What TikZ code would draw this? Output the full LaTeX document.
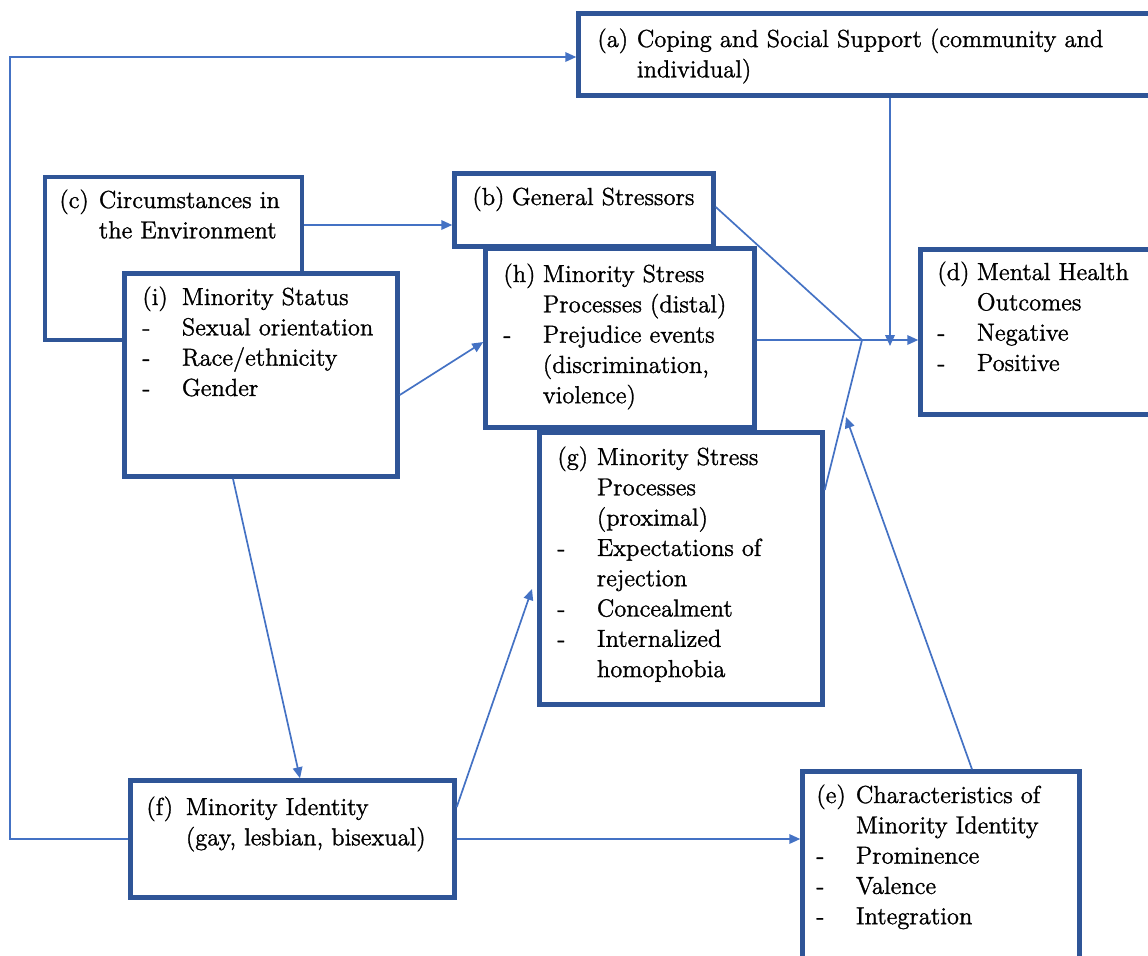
\documentclass[tikz,border=0pt]{standalone}
\usepackage{fontspec}
\setmainfont{Latin Modern Roman}[FakeBold=1.2]
\usetikzlibrary{arrows.meta,fit,calc}
\definecolor{boxblue}{HTML}{2F5597}
\definecolor{linkblue}{HTML}{4472C4}
\newcommand\lb[1]{\makebox[19.75pt][l]{#1}}
\begin{document}
\begin{tikzpicture}[x=0.5pt,y=-0.5pt,
 box/.style={draw=boxblue, line width=2.25pt, fill=white, inner sep=0pt},
 txt/.style={inner sep=0pt, anchor=base west, font=\fontsize{12.3pt}{15.15pt}\selectfont},
 conn/.style={draw=linkblue, line width=0.85pt},
 arr/.style={conn, -{Triangle[length=5.5pt,width=4.8pt]}},
]
\useasboundingbox (0,0) rectangle (1148,955);
\begin{scope}
\clip (0,0) rectangle (1148,955);
% boxes
\node[box, fit={(578.5,13.5) (1160,95.5)}] (a) {};
\node[box, fit={(45,177) (302,340)}] (c) {};
\node[box, fit={(124.5,273.5) (397.5,476.5)}] (i) {};
\node[box, fit={(454.5,173.5) (713.5,246.5)}] (b) {};
\node[box, fit={(485.5,248.5) (754.5,427.5)}] (h) {};
\node[box, fit={(539.5,432.5) (822.5,704.5)}] (g) {};
\node[box, fit={(920.5,249.5) (1160,414.5)}] (d) {};
\node[box, fit={(130.5,780.5) (454.5,897.5)}] (f) {};
\node[box, fit={(802.5,771.5) (1079.5,975)}] (e) {};
% texts
\node[txt] (ta) at (597,47) {\begin{tabular}[t]{@{}l@{}}\lb{(a)}Coping and Social Support (community and\\\lb{}individual)\end{tabular}};
\node[txt] (tc) at (59,208) {\begin{tabular}[t]{@{}l@{}}\lb{(c)}Circumstances in\\\lb{}the Environment\end{tabular}};
\node[txt] (tb) at (472,205) {\begin{tabular}[t]{@{}l@{}}\lb{(b)}General Stressors\end{tabular}};
\node[txt] (ti) at (142,305) {\begin{tabular}[t]{@{}l@{}}\lb{(i)}Minority Status\\\lb{-}Sexual orientation\\\lb{-}Race/ethnicity\\\lb{-}Gender\end{tabular}};
\node[txt] (th) at (503,282) {\begin{tabular}[t]{@{}l@{}}\lb{(h)}Minority Stress\\\lb{}Processes (distal)\\\lb{-}Prejudice events\\\lb{}(discrimination,\\\lb{}violence)\end{tabular}};
\node[txt] (tg) at (557,465) {\begin{tabular}[t]{@{}l@{}}\lb{(g)}Minority Stress\\\lb{}Processes\\\lb{}(proximal)\\\lb{-}Expectations of\\\lb{}rejection\\\lb{-}Concealment\\\lb{-}Internalized\\\lb{}homophobia\end{tabular}};
\node[txt] (td) at (937,280) {\begin{tabular}[t]{@{}l@{}}\lb{(d)}Mental Health\\\lb{}Outcomes\\\lb{-}Negative\\\lb{-}Positive\end{tabular}};
\node[txt] (tf) at (146,815) {\begin{tabular}[t]{@{}l@{}}\lb{(f)}Minority Identity\\\lb{}(gay, lesbian, bisexual)\end{tabular}};
\node[txt] (te) at (816,803) {\begin{tabular}[t]{@{}l@{}}\lb{(e)}Characteristics of\\\lb{}Minority Identity\\\lb{-}Prominence\\\lb{-}Valence\\\lb{-}Integration\end{tabular}};
% connectors
\coordinate (fbtop) at (10,57);
\draw[arr] (f.west) -| (fbtop) -- (fbtop -| a.west);
\draw[arr] (c.east |- 0,225) -- (b.west |- 0,225);
\draw[arr] (i.east |- 0,395) -- (h.west |- 0,342);
\draw[arr] (i.south -| 233,0) -- (f.north -| 300,0);
\coordinate (gTip) at (532,589);
\draw[arr] (f.east |- 0,807) -- (gTip);
\draw[arr] (f.east) -- (f.east -| e.west);
\coordinate (eTip) at (846,417);
\draw[arr] (e.north -| 972,0) -- (eTip);
\coordinate (J) at (862,340);
\draw[conn] (b.east |- 0,207) -- (J);
\draw[conn] (g.east |- 0,490) -- (J);
\draw[arr] (h.east |- 0,340) -- (J) -- (J -| d.west);
\coordinate (aTip) at (890,346);
\draw[arr] (a.south -| aTip) -- (aTip);
\end{scope}
\end{tikzpicture}
\end{document}
